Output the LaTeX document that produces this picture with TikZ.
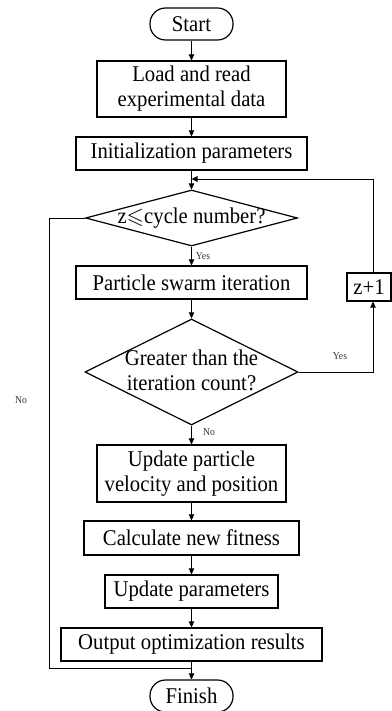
\documentclass[tikz,border=0pt]{standalone}
\usepackage{fontspec}
\usepackage{amssymb}
\setmainfont{Liberation Serif}[FakeStretch=0.92]
\usetikzlibrary{arrows.meta,shapes.geometric}
\begin{document}
\begin{tikzpicture}[x=1pt,y=-1pt,
  txt/.style={font=\fontsize{22.5}{25}\selectfont, align=center},
  box/.style={txt, draw, line width=1.2pt, inner sep=0pt},
  term/.style={box, rounded corners=15.5pt},
  dec/.style={draw, diamond, line width=1.2pt, inner sep=0pt},
  lbl/.style={txt, inner sep=0pt},
  small/.style={font=\fontsize{10.5}{11}\selectfont, inner sep=0pt, text=black!80},
  wire/.style={line width=0.9pt},
  link/.style={wire, -{Triangle[length=6pt,width=5.5pt]}}]
\useasboundingbox (0,0) rectangle (391,711);

% process steps
\node[term, minimum width=83pt, minimum height=32pt] (start) at (191.5,24) {Start};
\node[box, minimum width=189pt, minimum height=56pt] (load) at (191.5,89) {Load and read\\experimental data};
\node[box, minimum width=231pt, minimum height=33pt] (init) at (191.5,153.5) {Initialization parameters};
\node[dec, minimum width=212pt, minimum height=56pt] (d1) at (191.5,218) {};
\node[lbl] (d1t) at (191.5,218) {z$\leqslant$cycle number?};
\node[box, minimum width=231pt, minimum height=33pt] (pso) at (191.5,282.5) {Particle swarm iteration};
\node[dec, minimum width=213pt, minimum height=106pt] (d2) at (191.5,372) {};
\node[lbl] (d2t) at (191.5,370) {Greater than the\\iteration count?};
\node[box, minimum width=44pt, minimum height=28pt] (inc) at (369,287) {z+1};
\node[box, minimum width=189pt, minimum height=57pt] (upd) at (191.5,473.5) {Update particle\\velocity and position};
\node[box, minimum width=215pt, minimum height=34pt] (fit) at (191.5,538) {Calculate new fitness};
\node[box, minimum width=173pt, minimum height=33pt] (par) at (191.5,591.5) {Update parameters};
\node[box, minimum width=261pt, minimum height=33pt] (out) at (191.5,644.5) {Output optimization results};
\node[term, minimum width=83pt, minimum height=32pt] (fin) at (191.5,696) {Finish};

% loop helpers
\coordinate (join) at (191.5,179);
\coordinate (nocorner) at (49,668);
\coordinate (nojoin) at (191.5,668);

% main flow
\draw[link] (start) -- (load);
\draw[link] (load) -- (init);
\draw[link] (init) -- (d1);
\draw[link] (d1) -- (pso);
\draw[link] (pso) -- (d2);
\draw[link] (d2) -- (upd);
\draw[link] (upd) -- (fit);
\draw[link] (fit) -- (par);
\draw[link] (par) -- (out);
\draw[link] (out) -- (fin);

% counter loop
\draw[link] (d2.east) -| ([xshift=4pt]inc.south);
\draw[link] ([xshift=4pt]inc.north) |- (join);

% exit path
\draw[wire] (d1.west) -| (nocorner) -- (nojoin);

% branch labels
\node[small] (yes1) at (203,256) {Yes};
\node[small] (yes2) at (340,356) {Yes};
\node[small] (no1) at (209,432) {No};
\node[small] (no2) at (21,400) {No};
\end{tikzpicture}
\end{document}
